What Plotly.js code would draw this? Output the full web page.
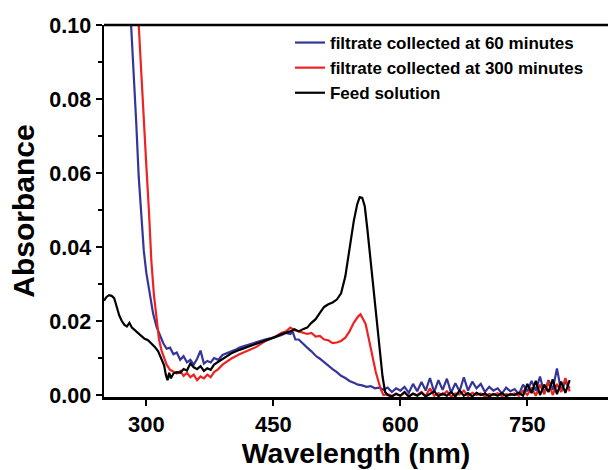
<!DOCTYPE html>
<html>
<head>
<meta charset="utf-8">
<script src="https://cdn.plot.ly/plotly-3.0.1.min.js"></script>
<style>html,body{margin:0;padding:0;background:#fff;}#chart{width:608px;height:470px;}</style>
</head>
<body>
<div id="chart"></div>
<script>
// Series names
var seriesNames = ["filtrate collected at 60 minutes", "filtrate collected at 300 minutes", "Feed solution"];

// Filtrate collected at 60 minutes
var blueX = [282,285,288,291,294,297,300,304,308,312,316,320,324,328,332,336,340,344,348,352,356,360,364,368,372,376,380,385,390,395,400,405,410,420,430,440,450,460,465,470,473,476,480,485,490,495,500,505,510,515,520,525,530,535,540,545,550,555,560,565,570,575,580,
  585,590,595,600,605,610,615,620,625,630,635,640,645,650,655,660,665,670,675,680,685,690,695,700,705,710,715,720,725,730,735,740,745,750,755,760,765,770,775,780,785,790,795,800];
var blueY = [0.100,0.088,0.074,0.059,0.048,0.039,0.033,0.027,0.022,0.0185,0.016,0.014,0.0125,0.0128,0.011,0.0115,0.0095,0.0105,0.0088,0.0095,0.0082,0.0098,0.0120,0.0085,0.0092,0.0088,0.0100,0.0095,0.0108,0.0112,0.0118,0.0122,0.0128,0.0135,0.0144,0.0150,0.0155,0.0162,0.0168,0.0165,0.0170,0.0150,0.0150,0.0138,0.0128,0.0118,0.0106,0.0098,0.0088,0.0080,0.0070,0.0062,0.0052,0.0046,0.0038,0.0033,0.0028,0.0026,0.0022,0.0024,0.0018,0.0020,0.0014,
  0.0020,0.0008,0.0018,0.0012,0.0022,0.0006,0.0030,0.0010,0.0035,0.0012,0.0046,0.0008,0.0040,0.0014,0.0044,0.0006,0.0032,0.0010,0.0048,0.0012,0.0036,0.0018,0.0030,0.0008,0.0022,0.0012,0.0018,0.0004,0.0020,0.0010,0.0016,0.0002,0.0028,0.0010,0.0038,0.0012,0.0050,0.0004,0.0040,0.0014,0.0072,0.0010,0.0036,0.0018];

// Filtrate collected at 300 minutes
var redX = [291,294,297,300,303,306,309,312,315,318,321,324,328,332,336,340,344,348,352,356,360,364,368,372,376,380,385,390,395,400,410,420,430,440,450,460,465,470,475,480,485,490,495,500,505,510,515,520,525,530,535,540,545,550,553,556,559,562,565,568,571,574,577,580,
  585,590,595,600,605,610,615,620,625,630,635,640,645,650,655,660,665,670,675,680,685,690,695,700,705,710,715,720,725,730,735,740,745,750,755,760,765,770,775,780,785,790,795,800];
var redY = [0.100,0.086,0.075,0.062,0.050,0.036,0.027,0.020,0.015,0.012,0.0098,0.0082,0.0068,0.0062,0.0058,0.0065,0.0052,0.0060,0.0048,0.0055,0.0040,0.0050,0.0045,0.0055,0.0048,0.0062,0.0070,0.0082,0.0090,0.0098,0.0110,0.0120,0.0130,0.0145,0.0155,0.0168,0.0172,0.0182,0.0175,0.0172,0.0168,0.0165,0.0168,0.0158,0.0160,0.0150,0.0148,0.0140,0.0142,0.0146,0.0155,0.0172,0.0195,0.0212,0.0218,0.0205,0.0192,0.0160,0.0125,0.0090,0.0062,0.0038,0.0015,0.0000,
  0.0002,-0.0003,0.0004,-0.0002,0.0006,-0.0004,0.0003,0.0000,0.0008,-0.0003,0.0018,-0.0002,0.0005,0.0000,0.0010,-0.0004,0.0004,0.0001,0.0012,-0.0003,0.0006,0.0000,0.0004,-0.0004,0.0003,0.0000,0.0005,-0.0003,0.0002,0.0000,0.0004,-0.0002,0.0012,0.0000,0.0020,-0.0002,0.0028,0.0002,0.0036,0.0000,0.0030,0.0008,0.0046,0.0010];

// Feed solution
var blackX = [250,253,256,259,262,265,268,271,274,277,280,283,286,290,294,298,302,306,310,314,318,321,323,325,327,329,332,336,340,344,348,352,356,360,364,368,372,376,380,385,390,395,400,410,420,430,440,450,460,470,475,480,485,490,495,500,505,510,515,520,525,530,535,540,545,549,552,555,558,561,564,567,570,573,576,579,582,585,
  590,595,600,605,610,615,620,625,630,635,640,645,650,655,660,665,670,675,680,685,690,695,700,705,710,715,720,725,730,735,740,745,750,755,760,765,770,775,780,785,790,795,800];
var blackY = [0.0255,0.0265,0.0270,0.0268,0.0262,0.0235,0.0215,0.0200,0.0190,0.0185,0.0195,0.0182,0.0175,0.0168,0.0160,0.0152,0.0148,0.0140,0.0130,0.0118,0.0098,0.0080,0.0055,0.0040,0.0060,0.0045,0.0058,0.0062,0.0060,0.0070,0.0066,0.0085,0.0075,0.0070,0.0078,0.0065,0.0072,0.0068,0.0082,0.0090,0.0098,0.0105,0.0112,0.0122,0.0130,0.0140,0.0148,0.0155,0.0165,0.0172,0.0178,0.0172,0.0178,0.0182,0.0195,0.0205,0.0222,0.0238,0.0245,0.0250,0.0258,0.0275,0.0320,0.0400,0.0470,0.0515,0.0535,0.0533,0.0510,0.0450,0.0380,0.0310,0.0240,0.0175,0.0110,0.0050,0.0008,0.0000,
  -0.0004,0.0003,-0.0002,0.0008,-0.0004,0.0004,-0.0002,0.0006,-0.0004,0.0002,0.0010,-0.0003,0.0004,-0.0002,0.0008,-0.0004,0.0012,-0.0002,0.0005,-0.0004,0.0006,0.0000,0.0004,-0.0004,0.0003,-0.0002,0.0005,-0.0003,0.0002,0.0000,0.0006,-0.0002,0.0030,0.0005,0.0038,0.0000,0.0028,0.0008,0.0042,0.0002,0.0036,0.0006,0.0040];

var xTickVals = [300, 450, 600, 750];
var yTickVals = [0.00, 0.02, 0.04, 0.06, 0.08, 0.10];
var yMinorTickVals = [0.01, 0.03, 0.05, 0.07, 0.09];

var FONT = "Liberation Sans, Arial, sans-serif";

var traces = [
  {x: blueX, y: blueY, name: seriesNames[0], mode: "lines", line: {color: "#34359a", width: 2.2}},
  {x: redX, y: redY, name: seriesNames[1], mode: "lines", line: {color: "#ee2222", width: 2.2}},
  {x: blackX, y: blackY, name: seriesNames[2], mode: "lines", line: {color: "#000000", width: 2.2}}
];

var layout = {
  width: 608, height: 470,
  margin: {l: 104, r: 0, t: 25, b: 73, pad: 0},
  paper_bgcolor: "#ffffff", plot_bgcolor: "#ffffff",
  font: {family: FONT, color: "#000"},
  showlegend: true,
  legend: {
    x: 0.369, y: 1.0, xanchor: "left", yanchor: "top",
    bgcolor: "rgba(0,0,0,0)", borderwidth: 0,
    font: {family: FONT, size: 17, color: "#000", weight: "bold"},
    traceorder: "normal"
  },
  xaxis: {
    range: [250, 845.3],
    tickmode: "array", tickvals: xTickVals,
    ticks: "outside", ticklen: 6, tickwidth: 2, tickcolor: "#000",
    showline: true, linecolor: "#000", linewidth: 2.5,
    showgrid: false, zeroline: false,
    tickfont: {family: FONT, size: 22, color: "#000", weight: "bold"},
    title: {text: "Wavelength (nm)", font: {family: FONT, size: 28.5, color: "#000", weight: "bold"}, standoff: 4}
  },
  yaxis: {
    range: [-0.00054, 0.1],
    tickmode: "array", tickvals: yTickVals, tickformat: ".2f",
    ticks: "outside", ticklen: 6, tickwidth: 2, tickcolor: "#000",
    minor: {tickvals: yMinorTickVals, ticks: "outside", ticklen: 4, tickwidth: 2, tickcolor: "#000"},
    showline: true, linecolor: "#000", linewidth: 2.5,
    showgrid: false, zeroline: false,
    tickfont: {family: FONT, size: 21.5, color: "#000", weight: "bold"},
    title: {text: "Absorbance", font: {family: FONT, size: 30, color: "#000", weight: "bold"}, standoff: 6}
  },
  shapes: [
    {type: "line", xref: "paper", yref: "paper", x0: 0, x1: 1.02, y0: 1, y1: 1, line: {color: "#000", width: 2.5}}
  ]
};

Plotly.newPlot("chart", traces, layout, {displayModeBar: false, staticPlot: true});
</script>
</body>
</html>
